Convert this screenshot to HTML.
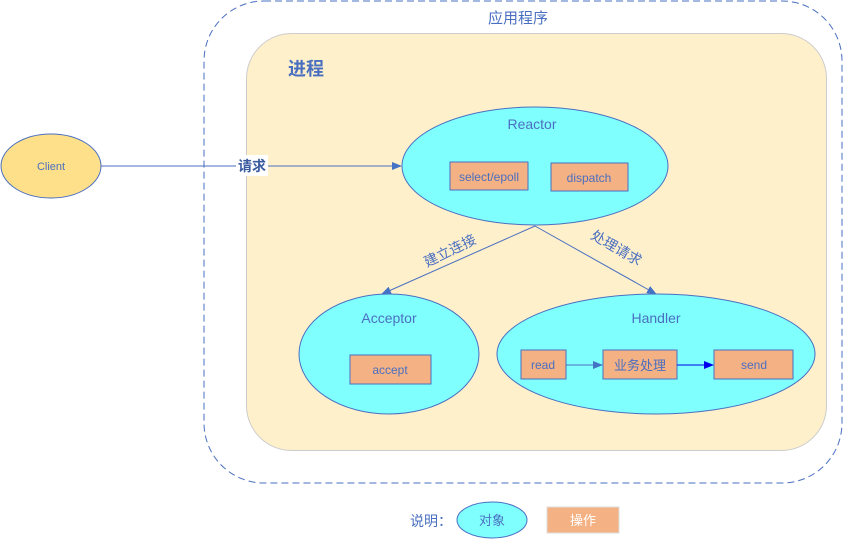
<!DOCTYPE html>
<html><head><meta charset="utf-8"><style>body{margin:0;background:#fff}svg{display:block}text{font-family:"Liberation Sans","Noto Sans CJK SC",sans-serif}</style></head><body>
<svg width="847" height="540" viewBox="0 0 847 540" xmlns="http://www.w3.org/2000/svg">
<defs><marker id="a" markerWidth="10" markerHeight="8" refX="9" refY="4" orient="auto" markerUnits="userSpaceOnUse"><path d="M0,0L10,4L0,8z" fill="#4472c4"/></marker>
<marker id="b" markerWidth="10" markerHeight="8" refX="9" refY="4" orient="auto" markerUnits="userSpaceOnUse"><path d="M0,0L10,4L0,8z" fill="#0000ee"/></marker></defs>
<rect x="204" y="1" width="638" height="482" rx="60" fill="none" stroke="#4a6fc0" stroke-dasharray="7,4"/>
<text x="518" y="23" font-size="15" fill="#4a6fc0" text-anchor="middle">应用程序</text>
<rect x="246.5" y="33.5" width="580" height="417" rx="45" fill="#fff0cc" stroke="#ccc"/>
<text x="288" y="75" font-size="18" font-weight="bold" fill="#4a6fc0">进程</text>
<ellipse cx="51" cy="166" rx="50" ry="32" fill="#ffe08a" stroke="#4a6fc0"/>
<text x="51" y="170" font-size="11" fill="#4a6fc0" text-anchor="middle">Client</text>
<line x1="101" y1="166" x2="401" y2="166" stroke="#4a6fc0" marker-end="url(#a)"/>
<rect x="236" y="155" width="32" height="21" fill="#fff"/>
<text x="252" y="171" font-size="14" font-weight="bold" fill="#3a5aa0" text-anchor="middle">请求</text>
<ellipse cx="535" cy="166" rx="133" ry="59" fill="#80ffff" stroke="#4a6fc0"/>
<text x="532" y="129" font-size="14" fill="#4a6fc0" text-anchor="middle">Reactor</text>
<rect x="450" y="162" width="78" height="28" fill="#f4b183" stroke="#4a6fc0"/>
<text x="489" y="181" font-size="12" fill="#4a6fc0" text-anchor="middle">select/epoll</text>
<rect x="551" y="163" width="77" height="28" fill="#f4b183" stroke="#4a6fc0"/>
<text x="589" y="182" font-size="12" fill="#4a6fc0" text-anchor="middle">dispatch</text>
<line x1="535" y1="226" x2="382" y2="294" stroke="#4a6fc0" marker-end="url(#a)"/>
<line x1="535" y1="226" x2="656" y2="294" stroke="#4a6fc0" marker-end="url(#a)"/>
<text transform="translate(452,255) rotate(-26)" font-size="14" fill="#4a6fc0" text-anchor="middle">建立连接</text>
<text transform="translate(614,252) rotate(30)" font-size="14" fill="#4a6fc0" text-anchor="middle">处理请求</text>
<ellipse cx="389" cy="354" rx="90" ry="60" fill="#80ffff" stroke="#4a6fc0"/>
<text x="389" y="323" font-size="14" fill="#4a6fc0" text-anchor="middle">Acceptor</text>
<rect x="350" y="355" width="81" height="29" fill="#f4b183" stroke="#4a6fc0"/>
<text x="390" y="374" font-size="12" fill="#4a6fc0" text-anchor="middle">accept</text>
<ellipse cx="656" cy="354" rx="159" ry="60" fill="#80ffff" stroke="#4a6fc0"/>
<text x="656" y="323" font-size="14" fill="#4a6fc0" text-anchor="middle">Handler</text>
<rect x="521" y="350" width="45" height="29" fill="#f4b183" stroke="#4a6fc0"/>
<text x="543" y="369" font-size="12" fill="#4a6fc0" text-anchor="middle">read</text>
<rect x="603" y="350" width="74" height="29" fill="#f4b183" stroke="#4a6fc0"/>
<text x="640" y="370" font-size="13" fill="#4a6fc0" text-anchor="middle">业务处理</text>
<rect x="714" y="350" width="79" height="29" fill="#f4b183" stroke="#4a6fc0"/>
<text x="754" y="369" font-size="12" fill="#4a6fc0" text-anchor="middle">send</text>
<line x1="566" y1="365" x2="602" y2="365" stroke="#4a6fc0" marker-end="url(#a)"/>
<line x1="677" y1="365" x2="713" y2="365" stroke="#0000ee" marker-end="url(#b)"/>
<text x="431" y="526" font-size="14" fill="#4a6fc0" text-anchor="middle">说明：</text>
<ellipse cx="492" cy="520" rx="35" ry="18" fill="#80ffff" stroke="#4a6fc0"/>
<text x="492" y="525" font-size="13" fill="#4a6fc0" text-anchor="middle">对象</text>
<rect x="547" y="507" width="72" height="26" fill="#f4b183" stroke="#ddd"/>
<text x="583" y="525" font-size="13" fill="#fff" text-anchor="middle">操作</text>
</svg>
</body></html>
